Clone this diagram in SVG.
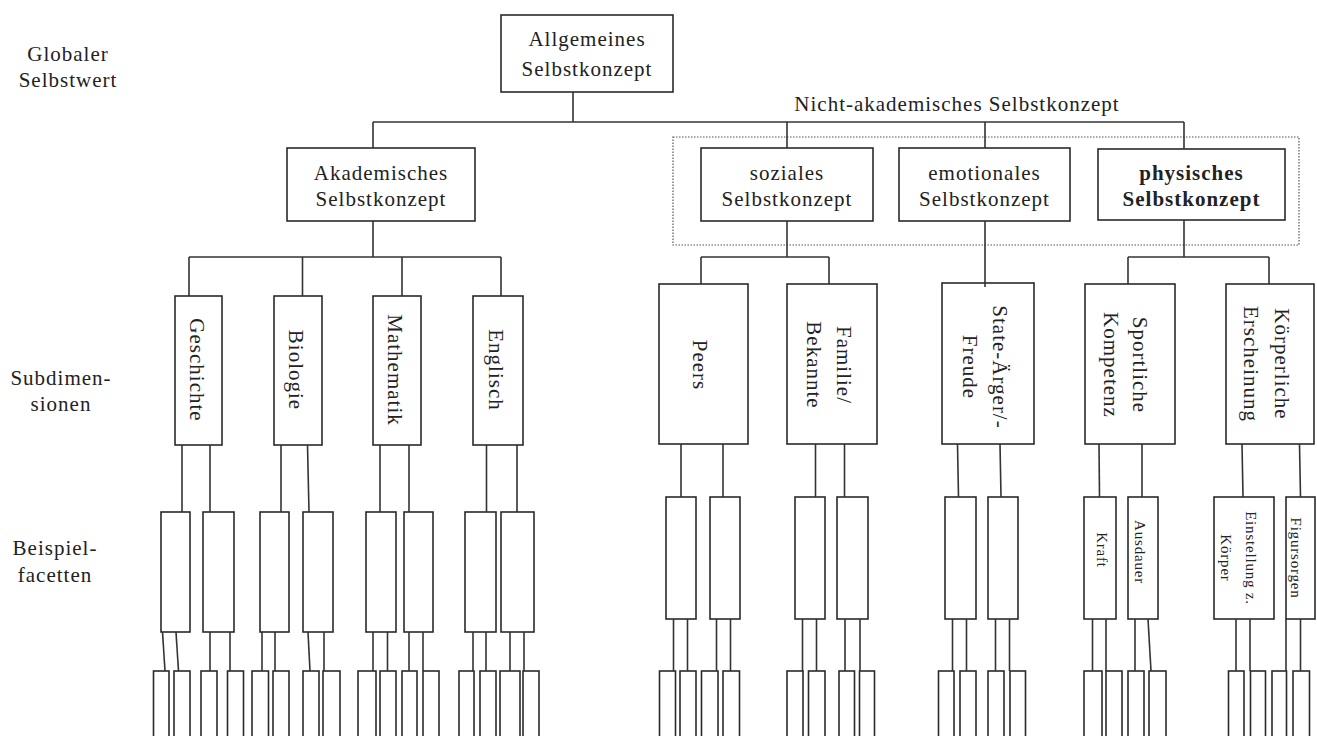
<svg xmlns="http://www.w3.org/2000/svg" width="1317" height="736" viewBox="0 0 1317 736">
  <style>
    .box { fill: #ffffff; stroke: #2a2a2a; stroke-width: 1.6; }
    .lbl { font-family: "Liberation Serif", "Times New Roman", serif; font-size: 21px; letter-spacing: 1px; fill: #222222; text-anchor: middle; }
    .sm { font-size: 15px; letter-spacing: 0.8px; }
    .bold { font-weight: bold; }
    .group-frame { fill: none; stroke: #555555; stroke-width: 1.2; stroke-dasharray: 1.5 1.5; }
    #connectors line { stroke: #333333; stroke-width: 1.6; fill: none; }
  </style>

  <rect width="1317" height="736" fill="#ffffff"/>

  <!-- level labels -->
  <g id="level-labels">
    <text class="lbl" x="68" y="61">Globaler</text>
    <text class="lbl" x="68" y="87">Selbstwert</text>
    <text class="lbl" x="61" y="385">Subdimen-</text>
    <text class="lbl" x="61" y="411">sionen</text>
    <text class="lbl" x="55" y="555">Beispiel-</text>
    <text class="lbl" x="55" y="582">facetten</text>
  </g>

  <!-- frame around the non-academic branch -->
  <rect class="group-frame" x="673" y="137" width="626" height="108"/>
  <text class="lbl" x="957" y="111">Nicht-akademisches Selbstkonzept</text>

  <g id="nodes">
    <g id="n-allgemein">
      <rect class="box" x="501" y="15" width="172" height="77"/>
      <text class="lbl" x="587" y="46">Allgemeines</text>
      <text class="lbl" x="587" y="76">Selbstkonzept</text>
    </g>
    <g id="n-akad">
      <rect class="box" x="287" y="148" width="188" height="73"/>
      <text class="lbl" x="381" y="180">Akademisches</text>
      <text class="lbl" x="381" y="206">Selbstkonzept</text>
    </g>
    <g id="n-sozial">
      <rect class="box" x="701" y="148" width="172" height="73"/>
      <text class="lbl" x="787" y="180">soziales</text>
      <text class="lbl" x="787" y="206">Selbstkonzept</text>
    </g>
    <g id="n-emotional">
      <rect class="box" x="899" y="148" width="171" height="73"/>
      <text class="lbl" x="984.5" y="180">emotionales</text>
      <text class="lbl" x="984.5" y="206">Selbstkonzept</text>
    </g>
    <g id="n-physisch">
      <rect class="box" x="1098" y="149" width="187" height="71"/>
      <text class="lbl bold" x="1191.5" y="180">physisches</text>
      <text class="lbl bold" x="1191.5" y="206">Selbstkonzept</text>
    </g>

    <!-- subdimensions (vertical labels) -->
    <g id="n-geschichte">
      <rect class="box" x="175" y="296" width="47" height="149"/>
      <text class="lbl" transform="translate(189.5,370) rotate(90)">Geschichte</text>
    </g>
    <g id="n-biologie">
      <rect class="box" x="274" y="296" width="48" height="149"/>
      <text class="lbl" transform="translate(289,370) rotate(90)">Biologie</text>
    </g>
    <g id="n-mathematik">
      <rect class="box" x="373" y="296" width="48" height="149"/>
      <text class="lbl" transform="translate(388,370) rotate(90)">Mathematik</text>
    </g>
    <g id="n-englisch">
      <rect class="box" x="473" y="296" width="50" height="149"/>
      <text class="lbl" transform="translate(489,370) rotate(90)">Englisch</text>
    </g>
    <g id="n-peers">
      <rect class="box" x="659" y="284" width="89" height="160"/>
      <text class="lbl" transform="translate(693,365) rotate(90)">Peers</text>
    </g>
    <g id="n-familie">
      <rect class="box" x="787" y="284" width="90" height="160"/>
      <text class="lbl" transform="translate(837,365) rotate(90)"><tspan x="0" y="0">Familie/</tspan><tspan x="0" dy="30">Bekannte</tspan></text>
    </g>
    <g id="n-state">
      <rect class="box" x="942" y="283" width="92" height="161"/>
      <text class="lbl" transform="translate(993,367) rotate(90)"><tspan x="0" y="0">State-Ärger/-</tspan><tspan x="0" dy="30">Freude</tspan></text>
    </g>
    <g id="n-sport">
      <rect class="box" x="1085" y="284" width="90" height="160"/>
      <text class="lbl" transform="translate(1133,365) rotate(90)"><tspan x="0" y="0">Sportliche</tspan><tspan x="0" dy="29">Kompetenz</tspan></text>
    </g>
    <g id="n-koerper">
      <rect class="box" x="1226" y="284" width="88" height="160"/>
      <text class="lbl" transform="translate(1275,364) rotate(90)"><tspan x="0" y="0">Körperliche</tspan><tspan x="0" dy="31">Erscheinung</tspan></text>
    </g>

    <!-- example facets -->
    <g id="f-1"><rect class="box" x="161" y="512" width="29" height="120"/></g>
    <g id="f-2"><rect class="box" x="203" y="512" width="31" height="120"/></g>
    <g id="f-3"><rect class="box" x="260" y="512" width="29" height="120"/></g>
    <g id="f-4"><rect class="box" x="303" y="512" width="30" height="120"/></g>
    <g id="f-5"><rect class="box" x="366" y="512" width="30" height="120"/></g>
    <g id="f-6"><rect class="box" x="404" y="512" width="29" height="120"/></g>
    <g id="f-7"><rect class="box" x="465" y="512" width="31" height="120"/></g>
    <g id="f-8"><rect class="box" x="501" y="512" width="33" height="120"/></g>
    <g id="f-9"><rect class="box" x="666" y="497" width="30" height="122"/></g>
    <g id="f-10"><rect class="box" x="710" y="497" width="30" height="122"/></g>
    <g id="f-11"><rect class="box" x="795" y="497" width="30" height="122"/></g>
    <g id="f-12"><rect class="box" x="837" y="497" width="31" height="122"/></g>
    <g id="f-13"><rect class="box" x="945" y="497" width="31" height="122"/></g>
    <g id="f-14"><rect class="box" x="988" y="497" width="30" height="122"/></g>
    <g id="f-kraft">
      <rect class="box" x="1084" y="497" width="32" height="122"/>
      <text class="lbl sm" transform="translate(1097,550) rotate(90)">Kraft</text>
    </g>
    <g id="f-ausdauer">
      <rect class="box" x="1128" y="497" width="30" height="122"/>
      <text class="lbl sm" transform="translate(1135,552) rotate(90)">Ausdauer</text>
    </g>
    <g id="f-einstellung">
      <rect class="box" x="1214" y="497" width="60" height="122"/>
      <text class="lbl sm" transform="translate(1245.5,558) rotate(90)"><tspan x="0" y="0">Einstellung z.</tspan><tspan x="0" dy="25">Körper</tspan></text>
    </g>
    <g id="f-figur">
      <rect class="box" x="1286" y="497" width="29" height="122"/>
      <text class="lbl sm" transform="translate(1291,558) rotate(90)">Figursorgen</text>
    </g>

    <!-- leaf items (continue below the page edge) -->
    <g id="l-1"><rect class="box" x="153.5" y="671" width="15.5" height="80"/></g>
    <g id="l-2"><rect class="box" x="174" y="671" width="16" height="80"/></g>
    <g id="l-3"><rect class="box" x="201" y="671" width="16" height="80"/></g>
    <g id="l-4"><rect class="box" x="227.5" y="671" width="16" height="80"/></g>
    <g id="l-5"><rect class="box" x="252" y="671" width="16.5" height="80"/></g>
    <g id="l-6"><rect class="box" x="273" y="671" width="16" height="80"/></g>
    <g id="l-7"><rect class="box" x="303" y="671" width="16" height="80"/></g>
    <g id="l-8"><rect class="box" x="323" y="671" width="17" height="80"/></g>
    <g id="l-9"><rect class="box" x="358" y="671" width="18" height="80"/></g>
    <g id="l-10"><rect class="box" x="380" y="671" width="16" height="80"/></g>
    <g id="l-11"><rect class="box" x="402" y="671" width="15" height="80"/></g>
    <g id="l-12"><rect class="box" x="423" y="671" width="16" height="80"/></g>
    <g id="l-13"><rect class="box" x="459" y="671" width="15" height="80"/></g>
    <g id="l-14"><rect class="box" x="480" y="671" width="16" height="80"/></g>
    <g id="l-15"><rect class="box" x="500" y="671" width="20" height="80"/></g>
    <g id="l-16"><rect class="box" x="523" y="671" width="16" height="80"/></g>
    <g id="l-17"><rect class="box" x="659.5" y="671" width="16" height="80"/></g>
    <g id="l-18"><rect class="box" x="680" y="671" width="16" height="80"/></g>
    <g id="l-19"><rect class="box" x="701.5" y="671" width="16.5" height="80"/></g>
    <g id="l-20"><rect class="box" x="723" y="671" width="16.5" height="80"/></g>
    <g id="l-21"><rect class="box" x="787" y="671" width="16" height="80"/></g>
    <g id="l-22"><rect class="box" x="808.5" y="671" width="16.5" height="80"/></g>
    <g id="l-23"><rect class="box" x="839" y="671" width="15.5" height="80"/></g>
    <g id="l-24"><rect class="box" x="859.5" y="671" width="15" height="80"/></g>
    <g id="l-25"><rect class="box" x="938.5" y="671" width="15.5" height="80"/></g>
    <g id="l-26"><rect class="box" x="960" y="671" width="16" height="80"/></g>
    <g id="l-27"><rect class="box" x="988" y="671" width="16" height="80"/></g>
    <g id="l-28"><rect class="box" x="1010" y="671" width="15.5" height="80"/></g>
    <g id="l-29"><rect class="box" x="1084" y="671" width="18" height="80"/></g>
    <g id="l-30"><rect class="box" x="1106" y="671" width="16" height="80"/></g>
    <g id="l-31"><rect class="box" x="1128" y="671" width="16" height="80"/></g>
    <g id="l-32"><rect class="box" x="1149" y="671" width="17" height="80"/></g>
    <g id="l-33"><rect class="box" x="1228.5" y="671" width="15.5" height="80"/></g>
    <g id="l-34"><rect class="box" x="1250.5" y="671" width="15" height="80"/></g>
    <g id="l-35"><rect class="box" x="1272" y="671" width="14.5" height="80"/></g>
    <g id="l-36"><rect class="box" x="1293" y="671" width="16.5" height="80"/></g>
  </g>

  <g id="connectors">
    <!-- global level to the two branches -->
    <line x1="573" y1="92" x2="573" y2="122"/>
    <line x1="373" y1="122" x2="1184" y2="122"/>
    <line x1="373" y1="122" x2="373" y2="148"/>
    <line x1="787" y1="122" x2="787" y2="148"/>
    <line x1="985" y1="122" x2="985" y2="148"/>
    <line x1="1184" y1="122" x2="1184" y2="149"/>

    <!-- academic branch to subjects -->
    <line x1="373" y1="221" x2="373" y2="257"/>
    <line x1="189" y1="257" x2="501" y2="257"/>
    <line x1="189" y1="257" x2="189" y2="296"/>
    <line x1="302.5" y1="257" x2="302.5" y2="296"/>
    <line x1="402" y1="257" x2="402" y2="296"/>
    <line x1="501" y1="257" x2="501" y2="296"/>

    <!-- social -->
    <line x1="787" y1="221" x2="787" y2="257"/>
    <line x1="701" y1="257" x2="829" y2="257"/>
    <line x1="701" y1="257" x2="701" y2="284"/>
    <line x1="829" y1="257" x2="829" y2="284"/>

    <!-- emotional -->
    <line x1="985" y1="221" x2="985" y2="287"/>

    <!-- physical -->
    <line x1="1184" y1="220" x2="1184" y2="257"/>
    <line x1="1128" y1="257" x2="1269" y2="257"/>
    <line x1="1128" y1="257" x2="1128" y2="284"/>
    <line x1="1269" y1="257" x2="1269" y2="284"/>

    <!-- subdimensions to facets -->
    <line x1="182" y1="445" x2="182" y2="512"/>
    <line x1="210" y1="445" x2="210" y2="512"/>
    <line x1="281" y1="445" x2="281" y2="512"/>
    <line x1="307.5" y1="445" x2="309" y2="512"/>
    <line x1="380" y1="445" x2="380" y2="512"/>
    <line x1="409" y1="445" x2="409" y2="512"/>
    <line x1="486.5" y1="445" x2="486.5" y2="512"/>
    <line x1="517" y1="445" x2="517" y2="512"/>
    <line x1="681" y1="444" x2="681" y2="497"/>
    <line x1="723" y1="444" x2="723" y2="497"/>
    <line x1="815.5" y1="444" x2="815.5" y2="497"/>
    <line x1="844.5" y1="444" x2="844.5" y2="497"/>
    <line x1="957.5" y1="444" x2="958.5" y2="497"/>
    <line x1="1000" y1="444" x2="1001" y2="497"/>
    <line x1="1099" y1="444" x2="1099.5" y2="497"/>
    <line x1="1142" y1="444" x2="1142" y2="497"/>
    <line x1="1242" y1="444" x2="1243" y2="497"/>
    <line x1="1299.5" y1="444" x2="1300.5" y2="497"/>

    <!-- facets to leaf items -->
    <line x1="162.5" y1="632" x2="165" y2="671"/>
    <line x1="176" y1="632" x2="178.5" y2="671"/>
    <line x1="210" y1="632" x2="210" y2="671"/>
    <line x1="230" y1="632" x2="230" y2="671"/>
    <line x1="262" y1="632" x2="262" y2="671"/>
    <line x1="275" y1="632" x2="275" y2="671"/>
    <line x1="308" y1="632" x2="310" y2="671"/>
    <line x1="324" y1="632" x2="324" y2="671"/>
    <line x1="373" y1="632" x2="373" y2="671"/>
    <line x1="387.5" y1="632" x2="387.5" y2="671"/>
    <line x1="409" y1="632" x2="409" y2="671"/>
    <line x1="423" y1="632" x2="423" y2="671"/>
    <line x1="473" y1="632" x2="473" y2="671"/>
    <line x1="486" y1="632" x2="486" y2="671"/>
    <line x1="510" y1="632" x2="510" y2="671"/>
    <line x1="524" y1="632" x2="524" y2="671"/>
    <line x1="673.5" y1="619" x2="673.5" y2="671"/>
    <line x1="687.5" y1="619" x2="687.5" y2="671"/>
    <line x1="716.5" y1="619" x2="716.5" y2="671"/>
    <line x1="730.5" y1="619" x2="730.5" y2="671"/>
    <line x1="802.5" y1="619" x2="802.5" y2="671"/>
    <line x1="816.5" y1="619" x2="816.5" y2="671"/>
    <line x1="845" y1="619" x2="845" y2="671"/>
    <line x1="860" y1="619" x2="860" y2="671"/>
    <line x1="952.5" y1="619" x2="952.5" y2="671"/>
    <line x1="966.5" y1="619" x2="966.5" y2="671"/>
    <line x1="995.5" y1="619" x2="995.5" y2="671"/>
    <line x1="1009.5" y1="619" x2="1009.5" y2="671"/>
    <line x1="1092.5" y1="619" x2="1092.5" y2="671"/>
    <line x1="1106" y1="619" x2="1106" y2="671"/>
    <line x1="1135" y1="619" x2="1135" y2="671"/>
    <line x1="1148" y1="619" x2="1151" y2="671"/>
    <line x1="1236" y1="619" x2="1236" y2="671"/>
    <line x1="1250" y1="619" x2="1250" y2="671"/>
    <line x1="1286" y1="619" x2="1286" y2="671"/>
    <line x1="1300.5" y1="619" x2="1300.5" y2="671"/>
  </g>
</svg>
